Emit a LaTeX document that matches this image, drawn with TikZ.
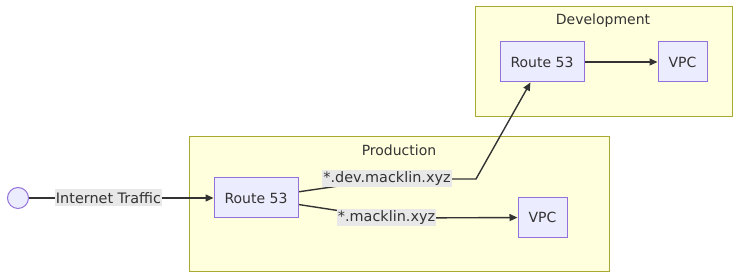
\documentclass[tikz,border=0pt]{standalone}
\usepackage{fontspec}
\setmainfont{DejaVu Sans}
\usetikzlibrary{arrows.meta}
\definecolor{clusterfill}{HTML}{FFFFDE}
\definecolor{clusterline}{HTML}{AAAA33}
\definecolor{nodefill}{HTML}{ECECFF}
\definecolor{nodeline}{HTML}{9370DB}
\definecolor{ink}{HTML}{333333}
\definecolor{labelbg}{HTML}{E8E8E8}
\pgfdeclarelayer{back}
\pgfdeclarelayer{edges}
\pgfsetlayers{back,edges,main}
\begin{document}
\begin{tikzpicture}[x=1pt,y=1pt,
  font=\fontsize{14pt}{16pt}\selectfont, text=ink,
  cluster/.style={draw=clusterline, fill=clusterfill, line width=1pt},
  svc/.style={draw=nodeline, fill=nodefill, line width=1pt, minimum height=40pt, inner sep=0pt},
  edgelabel/.style={fill=labelbg, font=\fontsize{14.4pt}{16pt}\selectfont,
    inner xsep=1pt, inner ysep=0pt, minimum height=17pt},
  link/.style={draw=ink, line width=1.4pt},
  tip/.style={-{Triangle[length=8pt,width=7pt]}}]
\useasboundingbox (0,0) rectangle (740,280);

% subgraph frames
\begin{pgfonlayer}{back}
  \draw[cluster] (189,8) rectangle (609,143);
  \draw[cluster] (475,163) rectangle (732,273);
\end{pgfonlayer}
\node (prodtitle) at (399,130) {Production};
\node (devtitle) at (603,259) {Development};

% entry point
\node[circle, draw=nodeline, fill=nodefill, line width=1pt, minimum size=21pt, inner sep=0pt] (inet) at (18,82) {};

% services
\node[svc, minimum width=84pt] (r53p) at (256,82) {Route 53};
\node[svc, minimum width=49pt] (vpcp) at (542.5,62.5) {VPC};
\node[svc, minimum width=84pt] (r53d) at (542,218) {Route 53};
\node[svc, minimum width=49pt] (vpcd) at (682.5,218) {VPC};

% edge labels
\node[edgelabel] (traffic) at (108.5,82) {Internet Traffic};
\node[edgelabel] (devzone) at (387,101) {*.dev.macklin.xyz};
\node[edgelabel] (prodzone) at (386.5,62) {*.macklin.xyz};
\coordinate (bend) at (476,101);

% connectors
\begin{pgfonlayer}{edges}
  \draw[link, tip] (inet) -- (traffic.center) -- (r53p);
  \draw[link, tip] (r53p) -- (devzone.center) -- (bend) -- (r53d);
  \draw[link, tip] (r53p) -- (prodzone.center) -- (vpcp);
  \draw[link, tip] (r53d) -- (vpcd);
\end{pgfonlayer}
\end{tikzpicture}
\end{document}
